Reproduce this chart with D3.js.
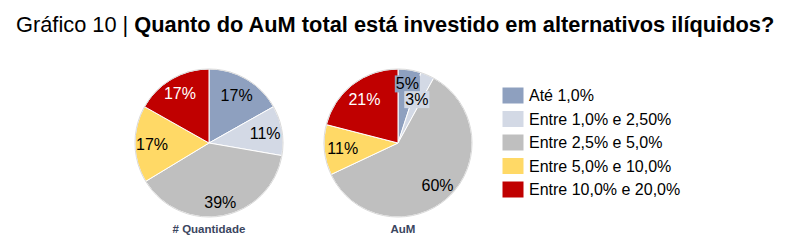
<!DOCTYPE html>
<html lang="pt">
  <head>
    <meta charset="utf-8">
    <script src="https://d3js.org/d3.v7.min.js"></script>
    <style>
      body { margin: 0; background: #fff; }
      text { font-family: "Liberation Sans", Arial, sans-serif; }
    </style>
  </head>
  <body>
    <div id="chart">
      <svg width="791" height="252"></svg>
    </div>
    <script type="text/javascript">
      // Data
      var categories = ["Até 1,0%", "Entre 1,0% e 2,50%", "Entre 2,5% e 5,0%",
        "Entre 5,0% e 10,0%", "Entre 10,0% e 20,0%"];
      var quantidade = [17, 11, 39, 17, 17];
      var aum = [5, 3, 60, 11, 21];
      var pieTitles = ["# Quantidade", "AuM"];

      var colors = ["#8ea0bf", "#d3d9e5", "#bfbfbf", "#ffd966", "#c00000"];
      var labelColors = ["#000", "#000", "#000", "#000", "#fff"];

      var svg = d3.select("svg"),
        width = +svg.attr("width"),
        height = +svg.attr("height");

      // Title
      var title = svg.append("text")
        .attr("x", 16)
        .attr("y", 32)
        .style("font-size", "21.8px")
        .style("fill", "#000");
      title.append("tspan").text("Gráfico 10 | ");
      title.append("tspan").style("font-weight", "bold")
        .text("Quanto do AuM total está investido em alternativos ilíquidos?");

      var radius = 74;
      var pie = d3.pie().sort(null).value(function(d) { return d; });
      var arc = d3.arc().innerRadius(0).outerRadius(radius);

      // label radius per pie (fraction of radius), boxes for small slices
      var pies = [
        {values: quantidade, cx: 209, cy: 143, titleX: 209, labelR: [0.74, 0.77, 0.82, 0.77, 0.78], boxed: []},
        {values: aum, cx: 398, cy: 143, titleX: 403, labelR: [0.81, 0.64, 0.78, 0.75, 0.74], boxed: [0, 1]}
      ];

      pies.forEach(function(p, pi) {
        var g = svg.append("g")
          .attr("transform", "translate(" + p.cx + "," + p.cy + ")");
        var arcs = pie(p.values);

        g.selectAll("path")
          .data(arcs)
          .enter().append("path")
          .attr("d", arc)
          .style("fill", function(d, i) { return colors[i]; })
          .style("stroke", "#fff")
          .style("stroke-width", 1);

        g.append("circle")
          .attr("r", radius)
          .style("fill", "none")
          .style("stroke", "#d9d9d9")
          .style("stroke-width", 1);

        arcs.forEach(function(d, i) {
          var r = radius * p.labelR[i];
          var a = (d.startAngle + d.endAngle) / 2;
          var x = Math.sin(a) * r, y = -Math.cos(a) * r;
          var lg = g.append("g");
          var t = lg.append("text")
            .attr("x", x)
            .attr("y", y)
            .attr("dy", "0.35em")
            .attr("text-anchor", "middle")
            .style("font-size", "16px")
            .style("fill", labelColors[i])
            .text(Math.round(d.data) + "%");
          if (p.boxed.indexOf(i) >= 0) {
            var b = t.node().getBBox();
            lg.insert("rect", "text")
              .attr("x", b.x - 1)
              .attr("y", b.y)
              .attr("width", b.width + 2)
              .attr("height", b.height)
              .style("fill", colors[i]);
          }
        });

        svg.append("text")
          .attr("x", p.titleX)
          .attr("y", 233)
          .attr("text-anchor", "middle")
          .style("font-size", "11.5px")
          .style("font-weight", "bold")
          .style("fill", "#3b4660")
          .text(pieTitles[pi]);
      });

      // Legend
      var legend = svg.append("g").attr("transform", "translate(502,87)");
      var rows = legend.selectAll("g")
        .data(categories)
        .enter().append("g")
        .attr("transform", function(d, i) { return "translate(0," + i * 23.5 + ")"; });
      rows.append("rect")
        .attr("width", 22)
        .attr("height", 17)
        .style("fill", function(d, i) { return colors[i]; })
        .style("stroke", "#fff");
      rows.append("text")
        .attr("x", 27)
        .attr("y", 8.5)
        .attr("dy", "0.35em")
        .style("font-size", "16px")
        .style("fill", "#000")
        .text(function(d) { return d; });
    </script>
  </body>
</html>
